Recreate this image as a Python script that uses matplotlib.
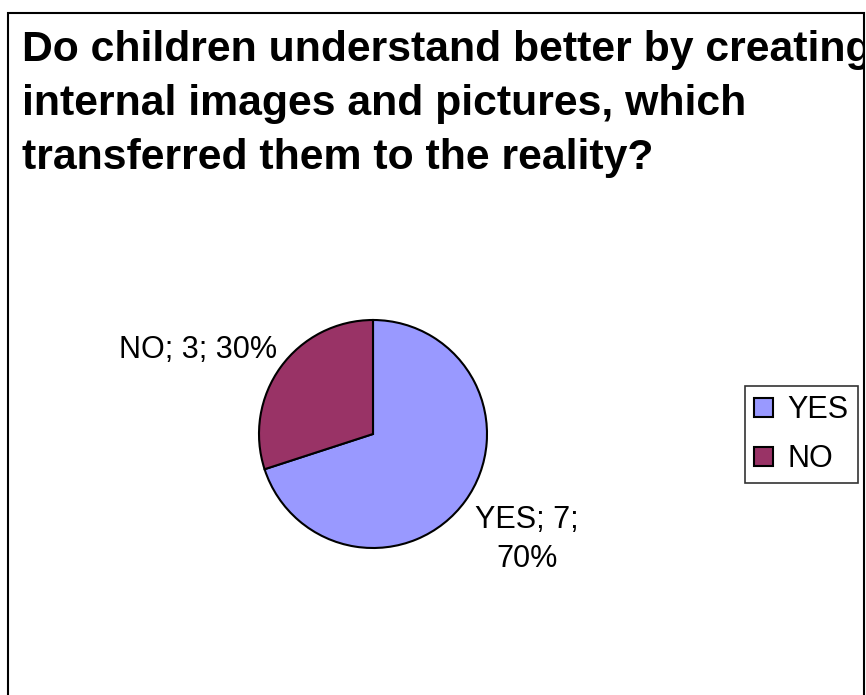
import matplotlib.pyplot as plt
from matplotlib.patches import Rectangle

plt.rcParams['font.family'] = ['Liberation Sans', 'DejaVu Sans']

# survey answers
answers = ['YES', 'NO']
counts = [7, 3]
colors = ['#9999FF', '#993366']
title_lines = ['Do children understand better by creating',
               'internal images and pictures, which',
               'transferred them to the reality?']

W, H = 866, 695
fig = plt.figure(figsize=(W / 100, H / 100), dpi=100)
# one axes over the whole figure, units are pixels (y up)
ax = fig.add_axes([0, 0, 1, 1])

wedges, _ = ax.pie(counts, colors=colors, startangle=90, counterclock=False,
                   center=(373, H - 434), radius=114,
                   wedgeprops=dict(edgecolor='black', linewidth=1.5))
ax.set_xlim(0, W)
ax.set_ylim(0, H)
ax.set_aspect('auto')
ax.axis('off')

# chart border (bottom edge runs past the image)
border = Rectangle((8, -20), 856, H - 13 + 20, fill=False,
                   edgecolor='black', linewidth=1.5, clip_on=False)
ax.add_patch(border)

# title, clipped by the chart border like the original chart area
for i, line in enumerate(title_lines):
    t = ax.text(22, H - 61 - i * 54, line, fontsize=30.8, fontweight='bold',
                ha='left', va='baseline')
    t.set_clip_on(True)
    t.set_clip_path(border)

# data labels: name; value; percent
total = sum(counts)
pcts = [round(100 * c / total) for c in counts]
ax.text(277, H - 358, f'{answers[1]}; {counts[1]}; {pcts[1]}%',
        fontsize=22, ha='right', va='baseline')
ax.text(527, H - 567, f'{answers[0]}; {counts[0]};\n{pcts[0]}%',
        fontsize=22, ha='center', va='baseline', linespacing=1.4)

leg = fig.legend(wedges, answers, loc='upper left',
                 bbox_to_anchor=(745 / W, 1 - 386 / H),
                 fontsize=22, frameon=True, fancybox=False,
                 handlelength=0.6, handleheight=0.6, handletextpad=0.5,
                 labelspacing=0.62, borderpad=0.3, borderaxespad=0)
leg.get_frame().set_edgecolor('black')
leg.get_frame().set_linewidth(1.2)

fig.savefig('out.png', dpi=100)
